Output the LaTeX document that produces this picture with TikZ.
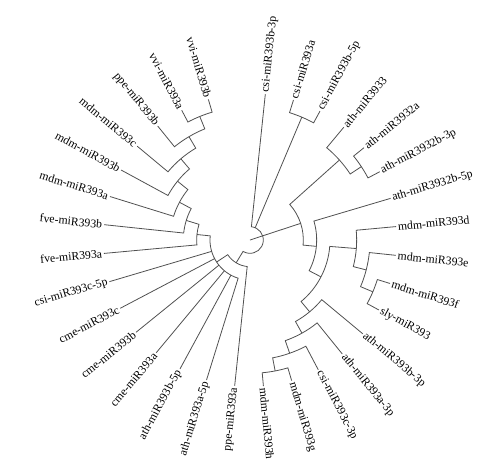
\documentclass[tikz,border=0pt]{standalone}
\usepackage{fontspec}
\setmainfont{Liberation Serif}
\usepackage{tikz}
\usepackage{xcolor}
\definecolor{branchgray}{RGB}{80,80,80}

\begin{document}
\begin{tikzpicture}[
    every node/.style={font=\fontsize{8.8}{10}\selectfont},
    leafr/.style={anchor=west, inner sep=1.3pt},
    leafl/.style={anchor=east, inner sep=1.3pt},
    branch/.style={draw=branchgray, line width=0.6pt}
]

\useasboundingbox (-187.5pt,-174pt) rectangle (187.5pt,180pt);

% Leaves, right half (tips at 110pt)
\node[leafr, rotate=84] (csib3p) at (84:110pt) {csi-miR393b-3p};
\node[leafr, rotate=72.75] (csia) at (72.75:110pt) {csi-miR393a};
\node[leafr, rotate=61.5] (csib5p) at (61.5:110pt) {csi-miR393b-5p};
\node[leafr, rotate=50.25] (ath33) at (50.25:110pt) {ath-miR3933};
\node[leafr, rotate=39] (ath32a) at (39:110pt) {ath-miR3932a};
\node[leafr, rotate=27.75] (ath32b3p) at (27.75:110pt) {ath-miR3932b-3p};
\node[leafr, rotate=16.5] (ath32b5p) at (16.5:110pt) {ath-miR3932b-5p};
\node[leafr, rotate=5.25] (mdmd) at (5.25:110pt) {mdm-miR393d};
\node[leafr, rotate=-6] (mdme) at (-6:110pt) {mdm-miR393e};
\node[leafr, rotate=-17.25] (mdmf) at (-17.25:110pt) {mdm-miR393f};
\node[leafr, rotate=-28.5] (sly) at (-28.5:110pt) {sly-miR393};
\node[leafr, rotate=-39.75] (athb3p) at (-39.75:110pt) {ath-miR393b-3p};
\node[leafr, rotate=-51] (atha3p) at (-51:110pt) {ath-miR393a-3p};
\node[leafr, rotate=-62.25] (csic3p) at (-62.25:110pt) {csi-miR393c-3p};
\node[leafr, rotate=-73.5] (mdmg) at (-73.5:110pt) {mdm-miR393g};
\node[leafr, rotate=-84.75] (mdmh) at (-84.75:110pt) {mdm-miR393h};

% Leaves, left half
\node[leafl, rotate=84] (ppea) at (264:110pt) {ppe-miR393a};
\node[leafl, rotate=72.75] (atha5p) at (252.75:110pt) {ath-miR393a-5p};
\node[leafl, rotate=61.5] (athb5p) at (241.5:110pt) {ath-miR393b-5p};
\node[leafl, rotate=50.25] (cmea) at (230.25:110pt) {cme-miR393a};
\node[leafl, rotate=39] (cmeb) at (219:110pt) {cme-miR393b};
\node[leafl, rotate=27.75] (cmec) at (207.75:110pt) {cme-miR393c};
\node[leafl, rotate=16.5] (csic5p) at (196.5:110pt) {csi-miR393c-5p};
\node[leafl, rotate=5.25] (fvea) at (185.25:110pt) {fve-miR393a};
\node[leafl, rotate=-6] (fveb) at (174:110pt) {fve-miR393b};
\node[leafl, rotate=-17.25] (mdma) at (162.75:110pt) {mdm-miR393a};
\node[leafl, rotate=-28.5] (mdmb) at (151.5:110pt) {mdm-miR393b};
\node[leafl, rotate=-39.75] (mdmc) at (140.25:110pt) {mdm-miR393c};
\node[leafl, rotate=-51] (ppeb) at (129:110pt) {ppe-miR393b};
\node[leafl, rotate=-62.25] (vvia) at (117.75:110pt) {vvi-miR393a};
\node[leafl, rotate=-73.5] (vvib) at (106.5:110pt) {vvi-miR393b};

% Internal nodes (10pt per level)
\coordinate (center) at (0,0);
\coordinate (nC1) at (67.125:100pt);
\coordinate (nAD) at (33.375:100pt);
\coordinate (nAC) at (41.8125:90pt);
\coordinate (nD3) at (-22.875:100pt);
\coordinate (nD2) at (-14.4375:90pt);
\coordinate (nD1) at (-4.59375:80pt);
\coordinate (nK) at (-79.125:100pt);
\coordinate (nJ) at (-70.6875:90pt);
\coordinate (nI) at (-60.84375:80pt);
\coordinate (nH) at (-50.296875:70pt);
\coordinate (nC) at (-27.4453:60pt);
\coordinate (nB) at (-5.4727:50pt);
\coordinate (nA) at (18.1699:40pt);
\coordinate (nVV) at (112.125:100pt);
\coordinate (nP2) at (120.5625:90pt);
\coordinate (nP3) at (130.40625:80pt);
\coordinate (nP4) at (140.9531:70pt);
\coordinate (nP5) at (151.8516:60pt);
\coordinate (nP6) at (162.9258:50pt);
\coordinate (nP7) at (174.0879:40pt);
\coordinate (nF) at (213.419:30pt);
\coordinate (nE) at (238.7095:20pt);

% Right clades
\draw[branch] (csia.west) -- (72.75:100pt) arc[start angle=72.75, end angle=61.5, radius=100pt] -- (csib5p.west);
\draw[branch] (ath32a.west) -- (39:100pt) arc[start angle=39, end angle=27.75, radius=100pt] -- (ath32b3p.west);
\draw[branch] (ath33.west) -- (50.25:90pt) arc[start angle=50.25, end angle=33.375, radius=90pt] -- (nAD);
\draw[branch] (mdmf.west) -- (-17.25:100pt) arc[start angle=-17.25, end angle=-28.5, radius=100pt] -- (sly.west);
\draw[branch] (mdme.west) -- (-6:90pt) arc[start angle=-6, end angle=-22.875, radius=90pt] -- (nD3);
\draw[branch] (mdmd.west) -- (5.25:80pt) arc[start angle=5.25, end angle=-14.4375, radius=80pt] -- (nD2);
\draw[branch] (mdmg.west) -- (-73.5:100pt) arc[start angle=-73.5, end angle=-84.75, radius=100pt] -- (mdmh.west);
\draw[branch] (csic3p.west) -- (-62.25:90pt) arc[start angle=-62.25, end angle=-79.125, radius=90pt] -- (nK);
\draw[branch] (atha3p.west) -- (-51:80pt) arc[start angle=-51, end angle=-70.6875, radius=80pt] -- (nJ);
\draw[branch] (athb3p.west) -- (-39.75:70pt) arc[start angle=-39.75, end angle=-60.84375, radius=70pt] -- (nI);
\draw[branch] (nD1) -- (-4.59375:60pt) arc[start angle=-4.59375, end angle=-50.296875, radius=60pt] -- (nH);
\draw[branch] (ath32b5p.west) -- (16.5:50pt) arc[start angle=16.5, end angle=-27.4453, radius=50pt] -- (nC);
\draw[branch] (nAC) -- (41.8125:40pt) arc[start angle=41.8125, end angle=-5.4727, radius=40pt] -- (nB);

% Left clades
\draw[branch] (vvib.east) -- (106.5:100pt) arc[start angle=106.5, end angle=117.75, radius=100pt] -- (vvia.east);
\draw[branch] (nVV) -- (112.125:90pt) arc[start angle=112.125, end angle=129, radius=90pt] -- (ppeb.east);
\draw[branch] (nP2) -- (120.5625:80pt) arc[start angle=120.5625, end angle=140.25, radius=80pt] -- (mdmc.east);
\draw[branch] (nP3) -- (130.40625:70pt) arc[start angle=130.40625, end angle=151.5, radius=70pt] -- (mdmb.east);
\draw[branch] (nP4) -- (140.9531:60pt) arc[start angle=140.9531, end angle=162.75, radius=60pt] -- (mdma.east);
\draw[branch] (nP5) -- (151.8516:50pt) arc[start angle=151.8516, end angle=174, radius=50pt] -- (fveb.east);
\draw[branch] (nP6) -- (162.9258:40pt) arc[start angle=162.9258, end angle=185.25, radius=40pt] -- (fvea.east);
\draw[branch] (nP7) -- (174.0879:30pt) arc[start angle=174.0879, end angle=252.75, radius=30pt] -- (atha5p.east);
\foreach \a/\n in {196.5/csic5p, 207.75/cmec, 219/cmeb, 230.25/cmea, 241.5/athb5p}
    \draw[branch] (\a:30pt) -- (\n.east);
\draw[branch] (nF) -- (213.419:20pt) arc[start angle=213.419, end angle=264, radius=20pt] -- (ppea.east);

% Root
\draw[branch] (csib3p.west) -- (84:10pt) arc[start angle=84, end angle=-121.2905, radius=10pt] -- (nE);
\draw[branch] (67.125:10pt) -- (nC1);
\draw[branch] (center) -- (nA);

\end{tikzpicture}
\end{document}
